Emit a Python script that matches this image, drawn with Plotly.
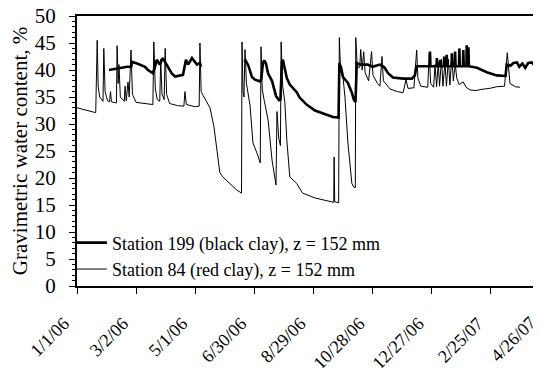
import pandas as pd
import plotly.graph_objects as go

# Days since 1/1/06 and gravimetric water content (%)
red_days = [0, 10, 19, 20.5, 21.5, 23, 26.4, 27.2, 28.5, 31,
            33, 34, 35, 40, 40.7, 41.8, 42.6, 44, 48, 48.8,
            50, 51.8, 53, 54.8, 56.3, 60, 70, 77, 78, 79.5,
            81.5, 84, 85, 86.3, 88.5, 89.5, 91, 94, 102, 108.5,
            109.6, 111, 120, 124, 124.8, 126, 128, 132, 135, 139,
            142, 145, 148, 155, 162, 167, 167.5, 168.5, 169.5, 170.5,
            172, 175.6, 178.6, 182.7, 186, 186.8, 188, 190, 194, 198,
            202, 203, 204.8, 206.5, 207.2, 208.8, 211, 213, 216, 223,
            229, 241.6, 250, 259, 260.6, 261, 261.6, 265.6, 266.3, 267.5,
            270, 272, 275, 279, 281, 282.5, 283, 284.5, 287, 288,
            289.5, 291, 292.5, 296, 299, 300.5, 305, 307.5, 309.6, 311,
            317.7, 325, 331, 334, 336, 342, 344.8, 346, 349, 356,
            357.6, 359, 362, 363.4, 365, 366.7, 368, 370, 371.5, 373.5,
            375, 377, 378.5, 380.5, 382, 384, 385.5, 388, 392, 395,
            399, 405, 410, 419, 426, 434, 436.8, 439.5, 445, 449.6]
red_vals = [33.0, 32.6, 32.1, 45.5, 37.0, 35.0, 34.2, 44.0, 36.0, 34.3,
            34.1, 36.0, 34.1, 33.9, 44.5, 37.5, 41.0, 35.0, 34.2, 37.0,
            34.3, 37.8, 35.0, 43.7, 35.5, 34.0, 33.8, 33.6, 45.2, 36.5,
            34.5, 34.2, 42.0, 35.5, 34.5, 44.0, 35.5, 33.8, 33.4, 33.3,
            36.0, 33.6, 33.2, 33.3, 45.0, 36.0, 35.3, 34.0, 33.0, 29.5,
            25.2, 21.0, 20.2, 19.0, 17.8, 17.2, 45.2, 36.0, 35.0, 43.8,
            37.5, 33.5, 26.5, 24.6, 22.8, 44.3, 36.5, 34.4, 30.7, 23.3,
            18.7, 32.3, 27.4, 26.0, 45.2, 37.0, 34.0, 27.0, 20.2, 19.0,
            17.2, 16.3, 15.9, 15.6, 15.5, 23.9, 15.6, 15.4, 46.0, 40.0,
            38.7, 35.0, 26.5, 19.0, 18.3, 18.2, 46.0, 40.5, 40.5, 43.8,
            40.0, 43.4, 39.5, 38.0, 43.4, 39.0, 37.5, 37.0, 42.5, 38.0,
            36.5, 36.0, 35.8, 38.2, 36.6, 36.7, 43.7, 38.5, 37.0, 36.8,
            43.1, 37.5, 36.8, 41.0, 36.9, 41.5, 37.0, 42.0, 37.0, 41.5,
            37.0, 42.0, 37.2, 42.5, 38.0, 41.0, 38.5, 37.3, 37.8, 36.8,
            36.3, 36.2, 36.4, 36.6, 36.9, 37.0, 43.2, 37.5, 36.9, 36.8]

black_days = [32.5, 40.6, 50.8, 55, 56, 61, 69, 72, 77, 79,
              81, 84, 87, 91, 96, 99.5, 107.6, 110.6, 112.7, 116.7,
              119.8, 121.8, 124.8, 125.9, 147, 170, 171, 172.5, 174, 177.6,
              180.7, 185.7, 187, 188.8, 190, 191.8, 193.9, 197.9, 202, 205,
              206.5, 208, 209, 210.5, 213, 216, 223, 226, 233, 241.6,
              246.6, 252, 259.8, 265.5, 266.3, 268, 270, 275, 279, 281,
              282.7, 284, 287, 295, 300, 307.5, 312, 315.7, 320.7, 331,
              340, 343, 344.5, 358, 358.3, 358.8, 365, 365.3, 365.8, 368.4,
              368.7, 369.1, 372.4, 372.7, 373.1, 375, 375.3, 375.8, 380.2, 380.5,
              381, 383.5, 383.8, 384.3, 387.8, 388.1, 388.6, 391.8, 392.1, 392.6,
              395.3, 395.6, 396.1, 397, 397.3, 397.8, 402, 406, 416, 422,
              426, 435, 436.2, 440, 443, 446.6, 449, 452, 455, 458,
              461.8, 464.5, 468, 471]
black_vals = [40.0, 40.3, 40.6, 40.6, 41.5, 41.2, 40.6, 40.0, 39.4, 40.5,
              41.9, 41.0, 42.2, 41.0, 39.4, 38.8, 39.1, 41.9, 41.0, 42.2,
              41.5, 41.0, 41.3, 40.6, None, 41.5, 41.8, 41.3, 40.8, 38.7,
              38.2, 37.9, 38.3, 41.3, 41.8, 41.2, 39.4, 38.0, 35.2, 34.4,
              34.5, 41.5, 41.9, 40.6, 38.5, 37.3, 35.9, 34.9, 33.6, 32.5,
              32.2, 31.8, 31.3, 31.2, 41.3, 40.5, 38.7, 37.6, 35.8, 34.5,
              34.1, 41.3, 41.0, 41.0, 40.6, 41.0, 40.5, 39.4, 38.6, 38.4,
              38.4, 39.0, 40.7, 40.7, 43.4, 40.7, 40.7, 42.2, 40.7, 40.7,
              41.9, 40.7, 40.7, 42.5, 40.7, 40.7, 42.8, 40.7, 40.7, 43.1,
              40.7, 40.7, 43.4, 40.7, 40.7, 44.0, 40.7, 40.7, 43.7, 40.7,
              40.7, 44.6, 40.7, 40.7, 44.2, 40.7, 40.6, 40.4, 39.6, 39.2,
              39.0, 38.9, 41.0, 40.8, 41.3, 41.4, 40.6, 41.2, 40.4, 41.3,
              41.4, 40.8, 39.8, 40.2]

tick_days = [0, 60, 120, 180, 240, 300, 360, 420]
tick_labels = ["1/1/06", "3/2/06", "5/1/06", "6/30/06", "8/29/06",
               "10/28/06", "12/27/06", "2/25/07"]
last_tick_day = 480
last_tick_label = "4/26/07"
range_days = 471

start = pd.Timestamp("2006-01-01")
to_date = lambda d: start + pd.to_timedelta(d, unit="D")

FAM = "Liberation Serif"
F18 = dict(family=FAM, size=18, color="black")
F21 = dict(family=FAM, size=21, color="black")

fig = go.Figure()
fig.add_trace(go.Scatter(
    x=[to_date(d) for d in black_days], y=black_vals, mode="lines",
    name="Station 199 (black clay), z = 152 mm",
    line=dict(color="black", width=2.6), connectgaps=False))
fig.add_trace(go.Scatter(
    x=[to_date(d) for d in red_days], y=red_vals, mode="lines",
    name="Station 84 (red clay), z = 152 mm",
    line=dict(color="black", width=1)))

# last date label sits past the visible end of the axis (cut by the page edge)
fig.add_annotation(
    x=last_tick_day / range_days, xref="paper", y=0, yref="paper",
    text=last_tick_label, showarrow=False, textangle=-45,
    xanchor="right", yanchor="top", xshift=-7, yshift=-24, font=F18)

# the page body has an 8px margin, so the figure is 8px smaller
fig.update_layout(
    width=533, height=360,
    margin=dict(l=69, r=0, t=8, b=82),
    paper_bgcolor="white", plot_bgcolor="white",
    font=F18,
    showlegend=True,
    legend=dict(x=-0.011, y=0.228, xanchor="left", yanchor="top",
                bgcolor="rgba(0,0,0,0)", font=F18,
                tracegroupgap=0, itemwidth=30),
    xaxis=dict(
        type="date", automargin=False,
        range=[to_date(0), to_date(range_days)],
        tickvals=[to_date(d) for d in tick_days],
        ticktext=tick_labels,
        tickangle=-45,
        ticks="outside", ticklen=6, tickwidth=1.2, tickcolor="black",
        showline=True, linecolor="black", linewidth=2, mirror=True,
        showgrid=False, zeroline=False,
        ticklabelstandoff=12, ticklabelshift=-13,
        ticklabeloverflow="allow",
        tickfont=F18,
    ),
    yaxis=dict(
        range=[0, 50], dtick=5, tick0=0, automargin=False,
        ticks="outside", ticklen=6, tickwidth=1.2, tickcolor="black",
        minor=dict(dtick=1, ticks="outside", ticklen=3, tickcolor="black", tickwidth=1),
        showline=True, linecolor="black", linewidth=2,
        showgrid=False, zeroline=False,
        ticklabelstandoff=9, ticklabeloverflow="allow",
        title=dict(text="Gravimetric water content, %", font=F21, standoff=7),
        tickfont=F21,
    ),
)

fig.write_html("out.html")
